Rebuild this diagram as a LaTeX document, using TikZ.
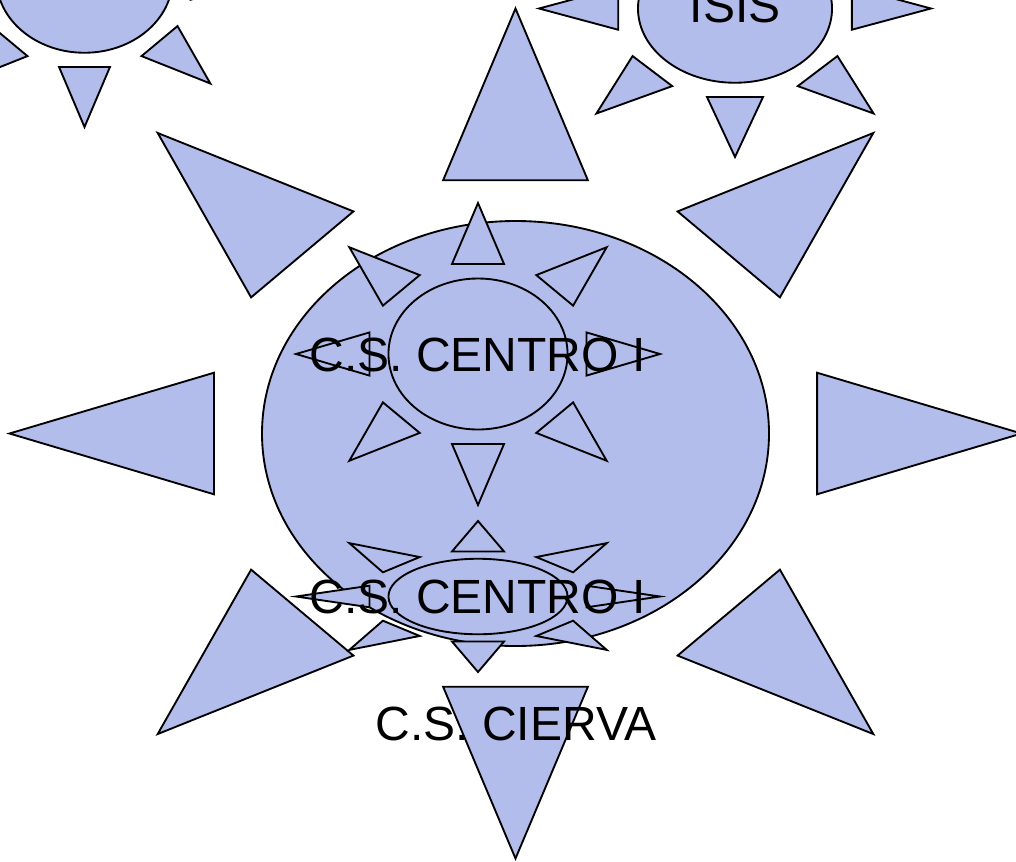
\documentclass[tikz,border=0pt]{standalone}
\usepackage{fontspec}
\setmainfont{Liberation Sans}
\usepackage{tikz}
\definecolor{sunfill}{RGB}{179,189,235}
\pgfmathsetmacro{\sunry}{0.5}
\pgfmathsetmacro{\raybase}{0.596}
\pgfmathsetmacro{\rayhalf}{0.143}
\tikzset{
  sun/.style={draw=black, fill=sunfill, line width=1.4pt},
  sunlabel/.style={font=\fontsize{36}{40}\selectfont, inner sep=0pt},
}
% sun shape: [#1 ellipse x radius], #2 centre, #3 half width, #4 half height
\newcommand{\drawsun}[4][0.495]{%
  \begin{scope}[shift={#2}, xscale=#3, yscale=#4]
    \draw[sun] (0,0) ellipse[x radius=#1, y radius=\sunry];
    \foreach \ang in {0,45,...,315}
      \draw[sun, rotate=\ang] (0,-1) -- (\rayhalf,-\raybase) -- (-\rayhalf,-\raybase) -- cycle;
  \end{scope}}

\begin{document}
\begin{tikzpicture}[x=0.75pt, y=-0.75pt]
    \useasboundingbox (0,0) rectangle (1016,861);
    \clip (0,0) rectangle (1016,861);
    % big sun
    \drawsun[0.501]{(515.5,433.5)}{506}{425}
    % small suns inside
    \drawsun[0.492]{(478,354)}{182}{151}
    \drawsun[0.492]{(478,596.5)}{182}{75.5}
    % suns at the top
    \drawsun{(735,8.5)}{196}{148.5}
    \drawsun{(84.5,-21.5)}{178}{148.5}
    % add labels
    \node[sunlabel] (centro_top) at (477.5,354.5) {C.S. CENTRO I};
    \node[sunlabel] (centro_low) at (477.5,597) {C.S. CENTRO I};
    \node[sunlabel] (cierva) at (516,724) {C.S. CIERVA};
    \node[sunlabel] (isis) at (735,6) {ISIS};
\end{tikzpicture}
\end{document}
